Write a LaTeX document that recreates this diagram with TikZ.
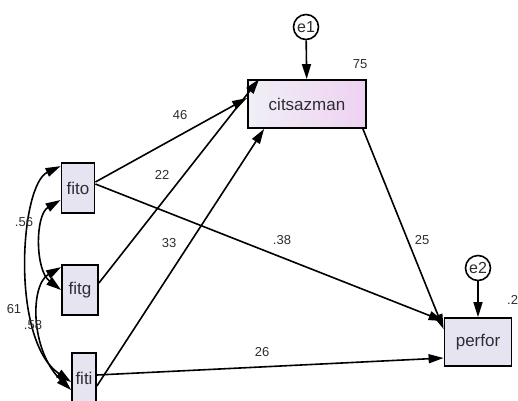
\documentclass[tikz,border=0pt]{standalone}
\usepackage{fontspec}
\setmainfont{Liberation Sans}
\usepackage{tikz}
\usetikzlibrary{arrows.meta}
\definecolor{boxfill}{RGB}{230,228,240}
\definecolor{boxpink}{RGB}{238,210,242}
\definecolor{textgrey}{RGB}{45,45,50}
\tikzset{>/.tip={Triangle[length=15pt,width=9pt]},
  var/.style={draw,line width=1.8pt,fill=boxfill,inner sep=0pt,
    font=\fontsize{17}{20}\selectfont,text=textgrey},
  err/.style={draw,circle,line width=1.6pt,minimum size=25pt,inner sep=0pt,
    fill=white,font=\fontsize{16}{18}\selectfont,text=textgrey},
  coef/.style={font=\fontsize{13}{15}\selectfont,text=textgrey,inner sep=0pt},
  path/.style={->,line width=1.6pt},
  cov/.style={<->,line width=1.6pt}}

\begin{document}
\begin{tikzpicture}[x=1pt,y=-1pt]
\useasboundingbox (0,0) rectangle (518,400);
% observed variables
\node[var,minimum width=118pt,minimum height=48pt,
  left color=boxfill!60,right color=boxpink] (cit) at (307,104) {citsazman};
\node[var,minimum width=67pt,minimum height=48pt] (perfor) at (478,342) {perfor};
\node[var,minimum width=33pt,minimum height=50pt] (fito) at (78,188) {fito};
\node[var,minimum width=36pt,minimum height=50pt] (fitg) at (80,290) {fitg};
\node[var,minimum width=24pt,minimum height=50pt] (fiti) at (84,378) {fiti};
% errors
\node[err] (e1) at (306,27) {e1};
\node[err] (e2) at (478,268) {e2};
\draw[path] (e1) to (cit);
\draw[path] (e2) to (perfor);
% paths
\draw[path] ([yshift=6pt]fito.east) to ([yshift=6pt]cit.west);
\draw[path] ([yshift=7pt]fitg.east) to ([xshift=12pt]cit.north west);
\draw[path] ([yshift=-8pt]fiti.east) to ([xshift=17pt]cit.south west);
\draw[path] ([yshift=4pt]fito.east) to ([yshift=-4pt]perfor.north west);
\draw[path] ([yshift=3pt]fiti.east) to ([yshift=-16pt]perfor.west);
\draw[path] ([xshift=-4pt]cit.south east) to ([yshift=-12pt]perfor.north west);
% covariances
\draw[cov] ([yshift=-4pt]fito.north west) .. controls (20,185) and (10,340) .. ([yshift=-4pt]fiti.west);
\draw[cov] ([yshift=-12pt]fito.west) .. controls (35,215) and (35,270) .. (fitg.west);
\draw[cov] ([yshift=-3pt]fitg.north west) .. controls (30,285) and (30,350) .. ([yshift=-12pt]fiti.west);
% estimates
\node[coef] (r1) at (360,64) {75};
\node[coef] (b1) at (180,115) {46};
\node[coef] (b2) at (162,175) {22};
\node[coef] (b3) at (169,243) {33};
\node[coef] (b4) at (282,240) {.38};
\node[coef] (b5) at (422,240) {25};
\node[coef] (b6) at (262,352) {26};
\node[coef] (c1) at (24,222) {.56};
\node[coef] (c2) at (14,309) {61};
\node[coef] (c3) at (33,325) {.58};
\node[coef,anchor=west] (r2) at (507,300) {.2};
\end{tikzpicture}
\end{document}
